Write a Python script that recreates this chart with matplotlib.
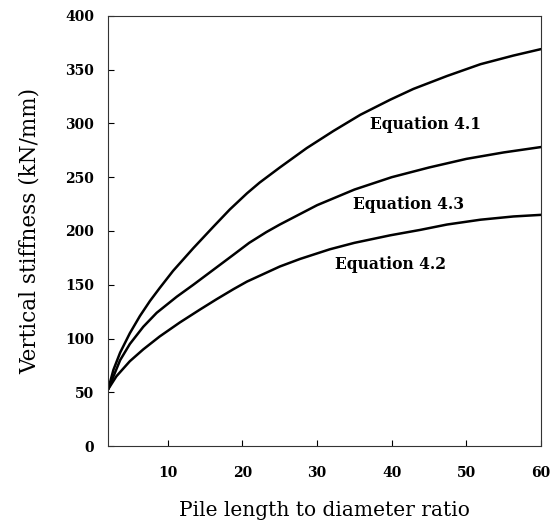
import matplotlib
matplotlib.use("Agg")
import matplotlib.pyplot as plt

# pile length / diameter ratio and vertical stiffness (kN/mm)
x_eq41 = [2, 2.7, 3.6, 4.9, 6.25, 7.6, 8.9, 10.7, 13.4, 16.1, 18.3, 20.6, 22.3,
          25.0, 28.6, 32.2, 35.8, 39.8, 42.9, 47.4, 51.9, 56.3, 60]
y_eq41 = [53, 71, 87, 105, 121, 135, 147, 163, 184, 204, 220, 235, 245,
          259, 277, 293, 308, 322, 332, 344, 355, 363, 369]

x_eq43 = [2, 3.6, 4.9, 6.7, 8.5, 11.2, 13.4, 16.1, 18.8, 20.9, 23.2, 25.0,
          27.5, 30.0, 35.0, 40.0, 45.0, 50.0, 55.0, 60]
y_eq43 = [53, 80, 95, 111, 124, 139, 150, 164, 178, 189, 199, 206,
          215, 224, 238.5, 250, 259, 267, 273, 278]

x_eq42 = [2, 3.1, 4.9, 6.7, 8.9, 11.6, 14.3, 16.5, 18.8, 20.6, 25.0, 27.7,
          31.7, 35.0, 39.8, 43.8, 47.4, 51.9, 56.3, 60]
y_eq42 = [53, 65, 79, 90, 102, 115, 127, 136.5, 146, 153, 167, 174,
          183, 189, 196, 201, 206, 210.5, 213.5, 215]

labels = ["Equation 4.1", "Equation 4.3", "Equation 4.2"]
label_x = [44.5, 42.2, 39.8]
label_y = [299, 225, 169]

x_ticks = [10, 20, 30, 40, 50, 60]
y_ticks = [0, 50, 100, 150, 200, 250, 300, 350, 400]

plt.rcParams['font.family'] = ['DejaVu Serif']

fig = plt.figure(figsize=(5.52, 5.25), dpi=100)
ax = fig.add_axes([0.196, 0.150, 0.784, 0.820])

for xs, ys in [(x_eq41, y_eq41), (x_eq43, y_eq43), (x_eq42, y_eq42)]:
    ax.plot(xs, ys, color='black', lw=1.8, solid_joinstyle='round',
            solid_capstyle='round')

for text, tx, ty in zip(labels, label_x, label_y):
    ax.text(tx, ty, text, ha='center', va='center', fontsize=11.2,
            fontweight='bold')

ax.set_xlim(2, 60)
ax.set_ylim(0, 400)
ax.set_xticks(x_ticks)
ax.set_yticks(y_ticks)
ax.tick_params(direction='in', length=4, width=0.8, labelsize=10, pad=10)
ax.tick_params(axis='x', pad=14)
for lab in ax.get_xticklabels() + ax.get_yticklabels():
    lab.set_fontweight('bold')
for sp in ax.spines.values():
    sp.set_linewidth(0.8)
    sp.set_color('#333333')

ax.set_xlabel('Pile length to diameter ratio', fontsize=14.5, labelpad=15)
ax.set_ylabel('Vertical stiffness (kN/mm)', fontsize=15.5, labelpad=18)

fig.savefig('out.png', dpi=100)
